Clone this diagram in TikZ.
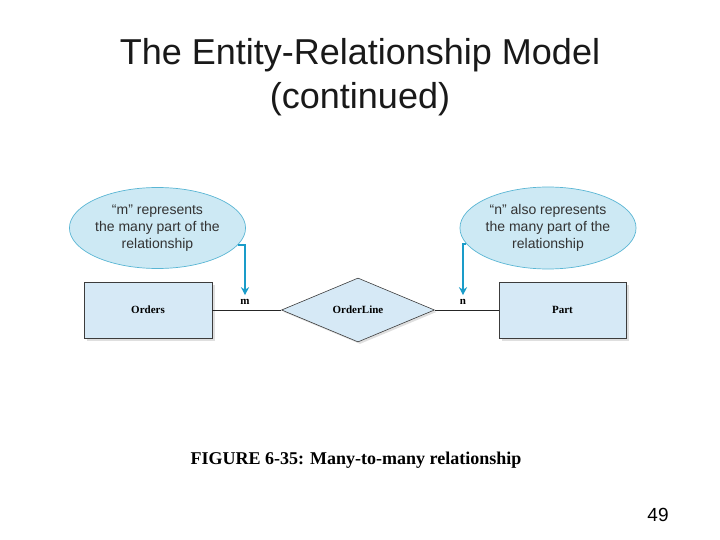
\documentclass[tikz,border=0pt]{standalone}
\usepackage{fontspec}
\setmainfont{Liberation Serif}
\newfontfamily\arialfont{Liberation Sans}
\usetikzlibrary{shapes.geometric,shadows,arrows.meta}
\definecolor{boxfill}{RGB}{214,233,246}
\definecolor{ellfill}{RGB}{205,233,244}
\definecolor{elldraw}{RGB}{90,182,212}
\definecolor{arrcol}{RGB}{26,156,201}
\definecolor{edgecol}{RGB}{60,60,60}
\tikzset{
  entity/.style={draw=edgecol, line width=0.6pt, fill=boxfill, minimum width=128pt, minimum height=56pt, inner sep=0pt,
    font=\fontsize{11}{13}\selectfont\bfseries,
    drop shadow={opacity=0.25, shadow xshift=3pt, shadow yshift=-3pt}},
  relbox/.style={diamond, draw=edgecol, line width=0.6pt, fill=boxfill, minimum width=153pt, minimum height=64pt, inner sep=0pt,
    font=\fontsize{11}{13}\selectfont\bfseries,
    drop shadow={opacity=0.25, shadow xshift=2pt, shadow yshift=-2pt}},
  note/.style={ellipse, draw=elldraw, line width=0.7pt, fill=ellfill, inner sep=0pt, align=center,
    font=\arialfont\fontsize{14}{17}\selectfont, text=black!80},
  card/.style={font=\fontsize{11}{13}\selectfont\bfseries, inner sep=0pt},
  pointer/.style={draw=arrcol, line width=1.3pt, -{Stealth[length=8pt,width=8pt]}},
  link/.style={draw=black!85, line width=0.6pt}
}
\begin{document}
\begin{tikzpicture}[x=1pt,y=-1pt]
\useasboundingbox (0,0) rectangle (720,540);
\node[font=\arialfont\fontsize{36}{44}\selectfont, align=center, text=black!90] (title) at (360,77) {The Entity-Relationship Model\\(continued)};

\node[entity, minimum width=128pt] (orders) at (148,310) {Orders};
\node[entity, minimum width=127pt] (part) at (562.5,310) {Part};
\node[relbox] (ol) at (358,310) {OrderLine};

\draw[link] (orders.east) -- (ol.west);
\draw[link] (ol.east) -- (part.west);

\node[note, minimum width=146pt, minimum height=81pt] (lnote) at (157.5,228) {“m” represents\\the many part of the\\relationship};
\node[note, minimum width=156pt, minimum height=82pt] (rnote) at (548,228) {“n” also represents\\the many part of the\\relationship};

\node[card] (m) at (245,302) {m};
\node[card] (n) at (463,302) {n};

\draw[pointer] (lnote.-12) -| ([yshift=4pt]m.north);
\draw[pointer] (rnote.191) -| ([yshift=4pt]n.north);

\node[font=\fontsize{18}{22}\selectfont\bfseries] (cap) at (356,460) {FIGURE 6-35: Many-to-many relationship};
\node[font=\arialfont\fontsize{19}{22}\selectfont] (pg) at (658,515) {49};
\end{tikzpicture}
\end{document}
